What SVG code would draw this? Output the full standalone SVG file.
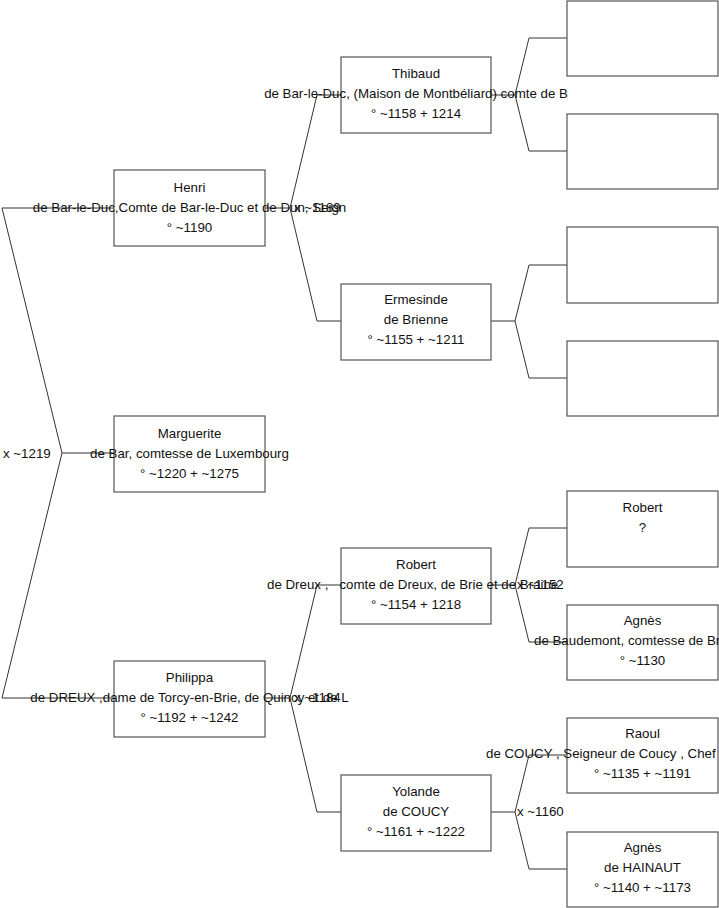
<svg xmlns="http://www.w3.org/2000/svg" width="719" height="908" viewBox="0 0 719 908">
<style>
.box{fill:#fff;stroke:#555;stroke-width:1.2}
.con{fill:none;stroke:#333;stroke-width:1}
text{font-family:"Liberation Sans",Arial,sans-serif;font-size:13.3px;fill:#111}
.c{text-anchor:middle}
</style>
<rect width="719" height="908" fill="#fff"/>
<g id="connectors">
<polyline class="con" points="114,453 62,453 2,208 114,208"/>
<polyline class="con" points="62,453 2,698 114,698"/>
<polyline class="con" points="265,208 290,208 317,95 341,95"/>
<polyline class="con" points="290,208 317,321 341,321"/>
<polyline class="con" points="265,698 290,698 317,585 341,585"/>
<polyline class="con" points="290,698 317,812 341,812"/>
<polyline class="con" points="491,95 515,95 529,38 567,38"/>
<polyline class="con" points="515,95 529,151 567,151"/>
<polyline class="con" points="491,321 515,321 529,265 567,265"/>
<polyline class="con" points="515,321 529,378 567,378"/>
<polyline class="con" points="491,585 515,585 529,528 567,528"/>
<polyline class="con" points="515,585 529,642 567,642"/>
<polyline class="con" points="491,812 515,812 529,755 567,755"/>
<polyline class="con" points="515,812 529,869 567,869"/>
</g>
<g id="marguerite">
<rect class="box" x="114" y="416" width="151" height="76"/>
<text class="c" x="189.5" y="438">Marguerite</text>
<text class="c" x="189.5" y="458">de Bar, comtesse de Luxembourg</text>
<text class="c" x="189.5" y="478">° ~1220 + ~1275</text>
<text x="3" y="458">x ~1219</text>
</g>
<g id="henri">
<rect class="box" x="114" y="170" width="151" height="76"/>
<text class="c" x="189.5" y="192">Henri</text>
<text class="c" x="189.5" y="212">de Bar-le-Duc,Comte de Bar-le-Duc et de Dun, Seign</text>
<text class="c" x="189.5" y="232">° ~1190</text>
<text x="294" y="212">x ~1189</text>
</g>
<g id="philippa">
<rect class="box" x="114" y="661" width="151" height="76"/>
<text class="c" x="189.5" y="682">Philippa</text>
<text class="c" x="189.5" y="702">de DREUX ,dame de Torcy-en-Brie, de Quincy et de L</text>
<text class="c" x="189.5" y="722">° ~1192 + ~1242</text>
<text x="294" y="702">x ~1184</text>
</g>
<g id="thibaud">
<rect class="box" x="341" y="57" width="150" height="76"/>
<text class="c" x="416" y="78">Thibaud</text>
<text class="c" x="416" y="98">de Bar-le-Duc, (Maison de Montbéliard) comte de B</text>
<text class="c" x="416" y="118">° ~1158 + 1214</text>
</g>
<g id="ermesinde">
<rect class="box" x="341" y="284" width="150" height="76"/>
<text class="c" x="416" y="304">Ermesinde</text>
<text class="c" x="416" y="324">de Brienne</text>
<text class="c" x="416" y="344">° ~1155 + ~1211</text>
</g>
<g id="robert">
<rect class="box" x="341" y="548" width="150" height="76"/>
<text class="c" x="416" y="569">Robert</text>
<text x="267" y="589" xml:space="preserve">de Dreux ,   comte de Dreux, de Brie et de Braine</text>
<text class="c" x="416" y="609">° ~1154 + 1218</text>
<text x="517" y="589">x ~1152</text>
</g>
<g id="yolande">
<rect class="box" x="341" y="775" width="150" height="76"/>
<text class="c" x="416" y="796">Yolande</text>
<text class="c" x="416" y="816">de COUCY</text>
<text class="c" x="416" y="836">° ~1161 + ~1222</text>
<text x="517" y="816">x ~1160</text>
</g>
<g id="thibaud-father">
<rect class="box" x="567" y="1" width="151" height="75"/>
</g>
<g id="thibaud-mother">
<rect class="box" x="567" y="114" width="151" height="75"/>
</g>
<g id="ermesinde-father">
<rect class="box" x="567" y="227" width="151" height="76"/>
</g>
<g id="ermesinde-mother">
<rect class="box" x="567" y="341" width="151" height="75"/>
</g>
<g id="robert-father">
<rect class="box" x="567" y="491" width="151" height="76"/>
<text class="c" x="642.5" y="512">Robert</text>
<text class="c" x="642.5" y="532">?</text>
</g>
<g id="agnes-baudemont">
<rect class="box" x="567" y="605" width="151" height="75"/>
<text class="c" x="642.5" y="625">Agnès</text>
<text x="534" y="645">de Baudemont, comtesse de Br</text>
<text class="c" x="642.5" y="665">° ~1130</text>
</g>
<g id="raoul">
<rect class="box" x="567" y="718" width="151" height="75"/>
<text class="c" x="642.5" y="738">Raoul</text>
<text x="486" y="758">de COUCY , Seigneur de Coucy , Chef</text>
<text class="c" x="642.5" y="778">° ~1135 + ~1191</text>
</g>
<g id="agnes-hainaut">
<rect class="box" x="567" y="832" width="151" height="75"/>
<text class="c" x="642.5" y="852">Agnès</text>
<text class="c" x="642.5" y="872">de HAINAUT</text>
<text class="c" x="642.5" y="892">° ~1140 + ~1173</text>
</g>
</svg>
